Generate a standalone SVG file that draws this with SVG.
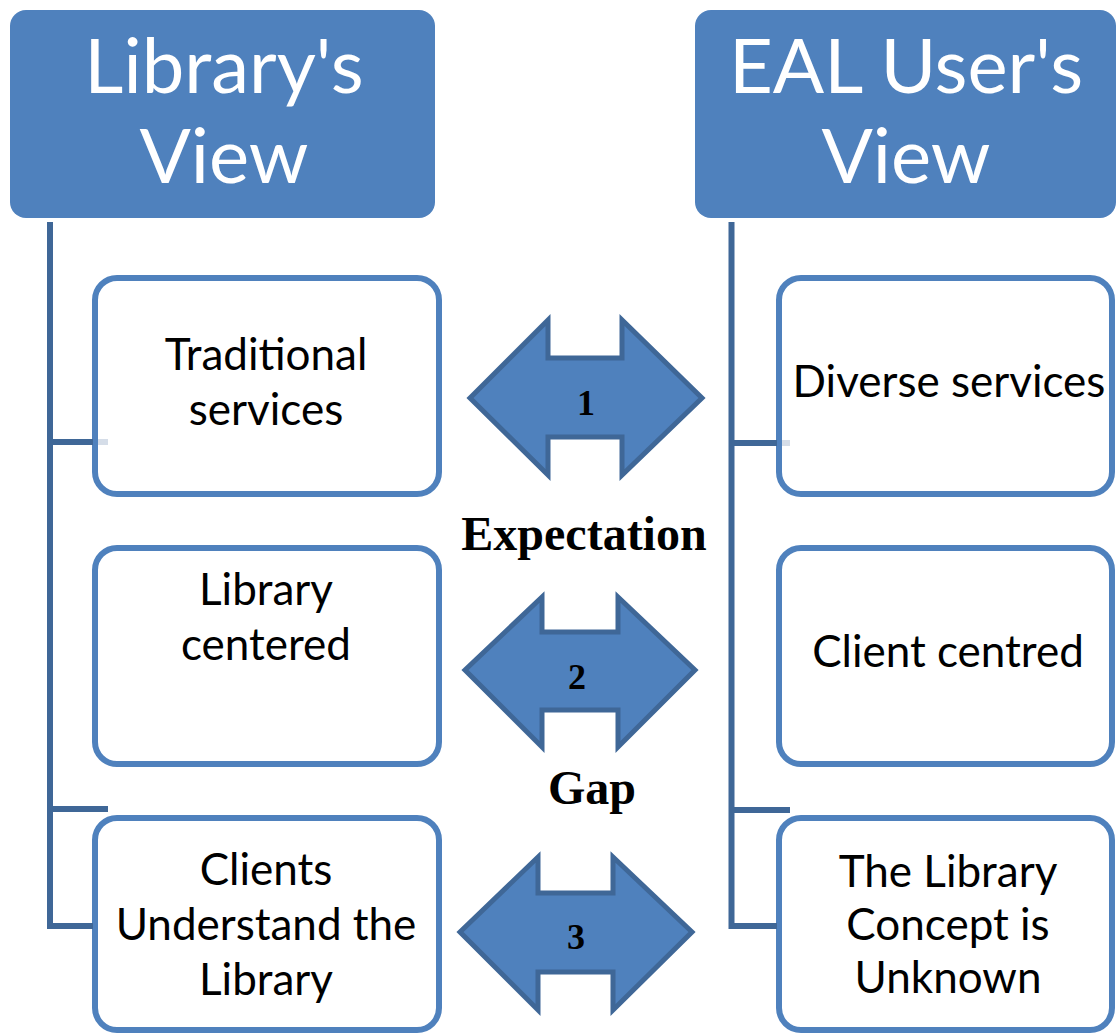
<svg xmlns="http://www.w3.org/2000/svg" width="1116" height="1036" viewBox="0 0 1116 1036">
<style>
.hdr{fill:#4F81BD}
.hdrt{font-family:Lato,"Open Sans",sans-serif;font-size:76px;fill:#FFFFFF;text-anchor:middle}
.box{fill:#FFFFFF;stroke:#4F81BD;stroke-width:6}
.bt{font-family:Lato,"Open Sans",sans-serif;font-size:44px;fill:#000000;text-anchor:middle}
.conn{stroke:#3F6797;stroke-width:6;fill:none}
.fade{stroke:#D5DDE8;stroke-width:6;fill:none}
.arr{fill:#4F81BD;stroke:#3F6797;stroke-width:5;stroke-linejoin:miter}
.num{font-family:"Liberation Serif",serif;font-weight:bold;font-size:36px;fill:#000000;text-anchor:middle}
.lbl{font-family:"Liberation Serif",serif;font-weight:bold;font-size:48px;fill:#000000;text-anchor:middle}
</style>
<rect width="1116" height="1036" fill="#FFFFFF"/>
<g id="header-library">
<rect class="hdr" x="10" y="10" width="425" height="208" rx="16"/>
<text class="hdrt" x="224" y="93">Library's</text>
<text class="hdrt" x="224" y="183">View</text>
</g>
<g id="header-eal">
<rect class="hdr" x="695" y="10" width="421" height="208" rx="16"/>
<text class="hdrt" x="906" y="93">EAL User's</text>
<text class="hdrt" x="906" y="183">View</text>
</g>
<g id="box-traditional">
<rect class="box" x="95" y="278" width="344" height="216" rx="22"/>
<text class="bt" x="266" y="370">Traditional</text>
<text class="bt" x="266" y="425">services</text>
</g>
<g id="box-library-centered">
<rect class="box" x="95" y="548" width="344" height="216" rx="22"/>
<text class="bt" x="266" y="605">Library</text>
<text class="bt" x="266" y="660">centered</text>
</g>
<g id="box-clients">
<rect class="box" x="95" y="818" width="344" height="212" rx="22"/>
<text class="bt" x="266" y="885">Clients</text>
<text class="bt" x="266" y="940">Understand the</text>
<text class="bt" x="266" y="995">Library</text>
</g>
<g id="box-diverse">
<rect class="box" x="779" y="278" width="333" height="216" rx="22"/>
<text class="bt" x="949" y="397">Diverse services</text>
</g>
<g id="box-client-centred">
<rect class="box" x="779" y="548" width="333" height="216" rx="22"/>
<text class="bt" x="948" y="667">Client centred</text>
</g>
<g id="box-unknown">
<rect class="box" x="779" y="818" width="333" height="212" rx="22"/>
<text class="bt" x="948" y="887">The Library</text>
<text class="bt" x="948" y="940">Concept is</text>
<text class="bt" x="948" y="993">Unknown</text>
</g>
<g id="connectors">
<path class="conn" d="M50,222 V929 M47,926 H93 M50,442 H93 M50,809 H108"/>
<path class="fade" d="M98,442 H108"/>
<path class="conn" d="M731.5,222 V929 M728.5,926 H777 M731.5,443 H777 M731.5,810 H790"/>
<path class="fade" d="M782,443 H790"/>
</g>
<g id="arrow-1">
<polygon class="arr" points="470,398 548,320 548,358 622,358 622,320 702,398 622,475 622,437 548,437 548,475"/>
<text class="num" x="586" y="415">1</text>
</g>
<g id="label-expectation">
<text class="lbl" x="584" y="550">Expectation</text>
</g>
<g id="arrow-2">
<polygon class="arr" points="465,670 542,597 542,632 618,632 618,597 695,670 618,747 618,710 542,710 542,747"/>
<text class="num" x="577" y="689">2</text>
</g>
<g id="label-gap">
<text class="lbl" x="592" y="804">Gap</text>
</g>
<g id="arrow-3">
<polygon class="arr" points="460,932 538,857 538,893 613,893 613,857 692,932 613,1010 613,972 538,972 538,1010"/>
<text class="num" x="576" y="949">3</text>
</g>
</svg>
